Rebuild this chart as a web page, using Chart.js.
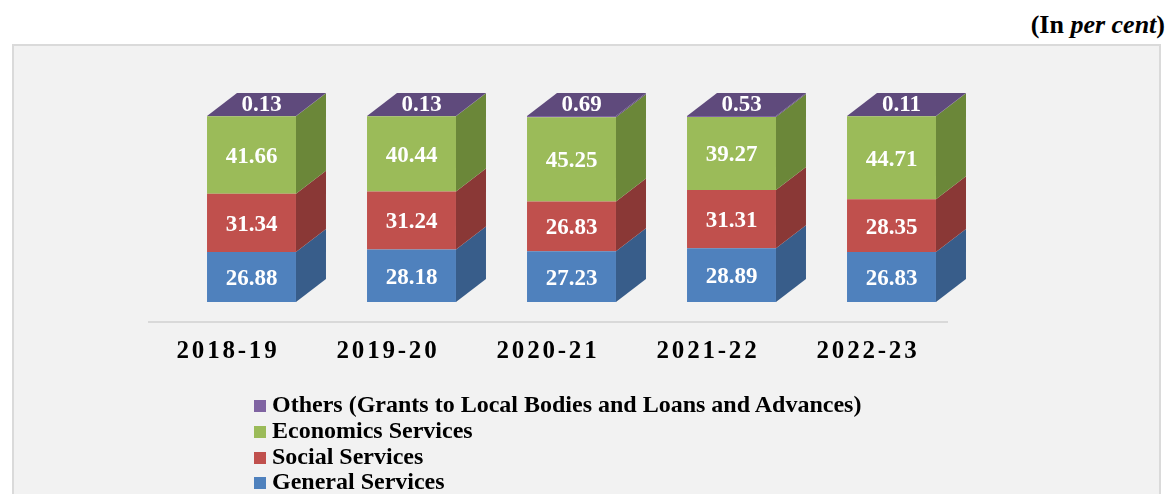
<!DOCTYPE html>
<html>
<head>
<meta charset="utf-8">
<script src="https://cdn.jsdelivr.net/npm/chart.js@4.4.1/dist/chart.umd.min.js"></script>
<style>
  html, body { margin: 0; padding: 0; width: 1171px; height: 494px; overflow: hidden; background: #ffffff; }
  #panel { position: absolute; left: 12px; top: 44px; width: 1149px; height: 470px; background: #f2f2f2; border: 2px solid #dadada; box-sizing: border-box; }
  #unit { position: absolute; right: 6px; top: 11px; font: bold 26px "Liberation Serif", "Times New Roman", serif; line-height: 28px; color: #000; }
  #wrap { position: absolute; left: 0; top: 0; width: 1171px; height: 494px; }
  #legend { position: absolute; left: 254px; top: 392px; font: bold 24px "Liberation Serif", "Times New Roman", serif; color: #000; }
  #legend .row { height: 25.8px; line-height: 25.8px; white-space: nowrap; }
  #legend .box { display: inline-block; width: 12px; height: 12px; margin-right: 6px; vertical-align: 0px; }
</style>
</head>
<body>
<div id="panel"></div>
<div id="unit">(In <i>per cent</i>)</div>
<div id="wrap"><canvas id="c"></canvas></div>
<div id="legend"></div>
<script>
const categories = ['2018-19', '2019-20', '2020-21', '2021-22', '2022-23'];
const generalServices = [26.88, 28.18, 27.23, 28.89, 26.83];
const socialServices = [31.34, 31.24, 26.83, 31.31, 28.35];
const economicServices = [41.66, 40.44, 45.25, 39.27, 44.71];
const others = [0.13, 0.13, 0.69, 0.53, 0.11];
const seriesNames = ['General Services', 'Social Services', 'Economics Services', 'Others (Grants to Local Bodies and Loans and Advances)'];

const frontColors = ['#4f81bd', '#c0504d', '#9bbb59', '#8064a2'];
const sideColors = ['#385d8a', '#8a3836', '#6b8739', '#5f4a7c'];
const topColor = '#5f4a7c';
const legendColors = ['#4f81bd', '#c0504d', '#9bbb59', '#8064a2'];
const DX = 30, DY = 23;

const seriesValues = [generalServices, socialServices, economicServices, others];

const box3d = {
  id: 'box3d',
  beforeDraw(chart) {
    chart.ctx.letterSpacing = '2.8px';
  },
  beforeDatasetsDraw(chart) {
    const ctx = chart.ctx;
    ctx.letterSpacing = '0px';
    const a = chart.chartArea;
    ctx.save();
    ctx.strokeStyle = '#d9d9d9';
    ctx.lineWidth = 2;
    ctx.beginPath();
    ctx.moveTo(a.left - 23.5, a.bottom + 20);
    ctx.lineTo(a.right - 23.5, a.bottom + 20);
    ctx.stroke();
    ctx.restore();
  },
  afterDatasetsDraw(chart) {
    const ctx = chart.ctx;
    ctx.save();
    const n = chart.data.datasets.length;
    for (let d = 0; d < n; d++) {
      const meta = chart.getDatasetMeta(d);
      meta.data.forEach((bar) => {
        const r = bar.x + bar.width / 2;
        ctx.fillStyle = sideColors[d];
        ctx.beginPath();
        ctx.moveTo(r, bar.y);
        ctx.lineTo(r + DX, bar.y - DY);
        ctx.lineTo(r + DX, bar.base - DY);
        ctx.lineTo(r, bar.base);
        ctx.closePath();
        ctx.fill();
      });
    }
    const topMeta = chart.getDatasetMeta(n - 1);
    topMeta.data.forEach((bar) => {
      const l = bar.x - bar.width / 2, r = bar.x + bar.width / 2;
      ctx.fillStyle = topColor;
      ctx.beginPath();
      ctx.moveTo(l, bar.y);
      ctx.lineTo(l + DX, bar.y - DY);
      ctx.lineTo(r + DX, bar.y - DY);
      ctx.lineTo(r, bar.y);
      ctx.closePath();
      ctx.fill();
    });
    ctx.fillStyle = '#ffffff';
    ctx.font = 'bold 23px "Liberation Serif", "Times New Roman", serif';
    ctx.textAlign = 'center';
    ctx.textBaseline = 'middle';
    for (let d = 0; d < n; d++) {
      const meta = chart.getDatasetMeta(d);
      const vals = chart.data.datasets[d].data;
      meta.data.forEach((bar, i) => {
        const txt = vals[i].toFixed(2);
        if (d === n - 1) {
          ctx.fillText(txt, bar.x + 10, bar.y - DY / 2 + 1);
        } else {
          ctx.fillText(txt, bar.x, (bar.y + bar.base) / 2 + 2);
        }
      });
    }
    ctx.restore();
  }
};

new Chart(document.getElementById('c'), {
  type: 'bar',
  data: {
    labels: categories,
    datasets: seriesValues.map((vals, i) => ({
      label: seriesNames[i],
      data: vals,
      backgroundColor: frontColors[i],
      borderWidth: 0,
      categoryPercentage: 1,
      barPercentage: 0.556,
      clip: false
    }))
  },
  options: {
    responsive: true,
    maintainAspectRatio: false,
    animation: false,
    events: [],
    layout: { padding: { left: 171.5, right: 199.5, top: 116, bottom: 0 } },
    plugins: { legend: { display: false }, tooltip: { enabled: false } },
    scales: {
      x: {
        stacked: true,
        grid: { display: false, drawTicks: false },
        border: { display: false },
        ticks: {
          color: '#000',
          font: { family: '"Liberation Serif", "Times New Roman", serif', size: 25, weight: 'bold' },
          padding: 35,
          labelOffset: -23.5,
          maxRotation: 0,
          autoSkip: false
        },
        afterFit(scale) { scale.height = 192; }
      },
      y: {
        stacked: true,
        display: false,
        min: 0,
        max: 100
      }
    }
  },
  plugins: [box3d]
});

const legend = document.getElementById('legend');
for (let i = seriesNames.length - 1; i >= 0; i--) {
  const row = document.createElement('div');
  row.className = 'row';
  const b = document.createElement('span');
  b.className = 'box';
  b.style.background = legendColors[i];
  row.appendChild(b);
  row.appendChild(document.createTextNode(seriesNames[i]));
  legend.appendChild(row);
}
</script>
</body>
</html>
